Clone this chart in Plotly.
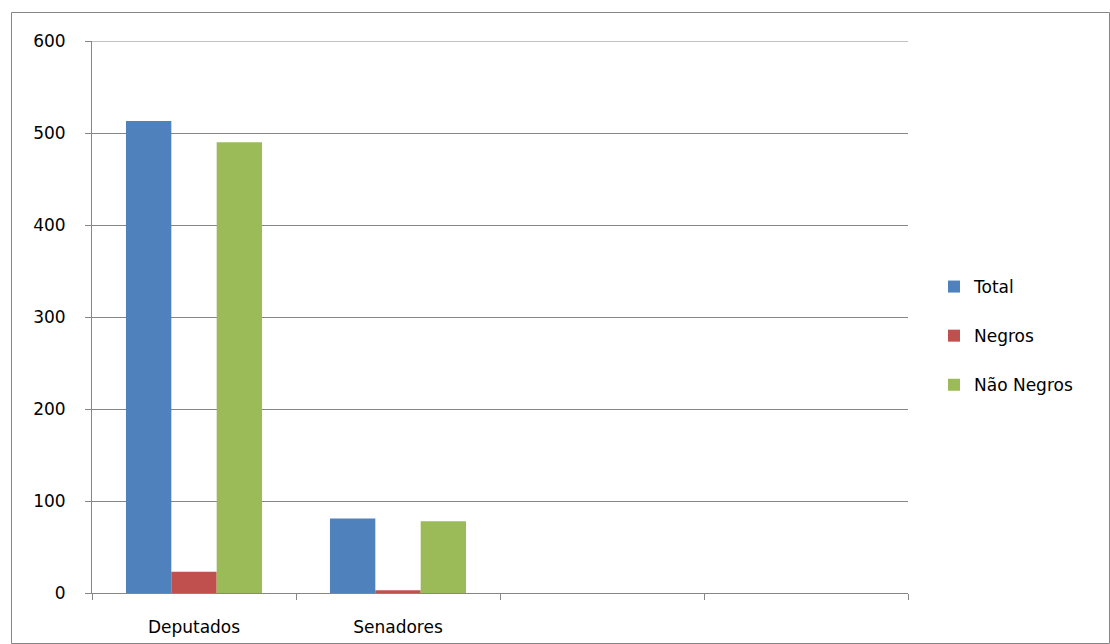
import plotly.graph_objects as go

categories = ["Deputados", "Senadores"]
n_slots = 4  # the chart reserves four category slots, two of them empty
total = [513, 81]
negros = [23, 3]
nao_negros = [490, 78]
series_names = ["Total", "Negros", "Não Negros"]
colors = ["#4F81BD", "#C0504D", "#9BBB59"]
y_ticks = [0, 100, 200, 300, 400, 500, 600]

FONT = "DejaVu Sans"
FS = 17
GRID = "#868686"

xpos = list(range(len(categories)))
boundaries = [i - 0.5 for i in range(n_slots + 1)]

fig = go.Figure()
for i, (name, vals) in enumerate(zip(series_names, [total, negros, nao_negros])):
    fig.add_trace(go.Bar(x=xpos, y=vals, name=name, marker_color=colors[i],
                         marker_line_width=0, legendgroup=name))

W, H = 1110, 644
L, R, T, B = 92, 908, 41, 593
pw, ph = R - L, B - T

def px(x):
    return (x - L) / pw

def py(y):
    return (B - y) / ph

fig.add_shape(type="rect", xref="paper", yref="paper",
              x0=px(11.5), x1=px(1109.5), y0=py(643.5), y1=py(12.5),
              line=dict(color=GRID, width=1), fillcolor="rgba(0,0,0,0)", layer="below")
# top gridline at the max of the value axis
fig.add_shape(type="line", xref="paper", yref="y", x0=0, x1=1,
              y0=y_ticks[-1], y1=y_ticks[-1], line=dict(color=GRID, width=1))

fig.update_layout(
    width=W, height=H,
    margin=dict(l=L, r=W - R, t=T, b=H - B),
    paper_bgcolor="white", plot_bgcolor="white",
    barmode="group", bargap=0.333, bargroupgap=0,
    font=dict(family=FONT, size=FS, color="#000000"),
    showlegend=True,
    legend=dict(x=px(934), y=py(336), xanchor="left", yanchor="middle",
                font=dict(family=FONT, size=FS), tracegroupgap=24,
                itemwidth=30, bgcolor="rgba(0,0,0,0)"),
    xaxis=dict(range=[boundaries[0], boundaries[-1]], tickmode="array",
               tickvals=xpos, ticktext=categories, ticks="",
               minor=dict(tickmode="array", tickvals=boundaries, ticks="outside",
                          ticklen=6, tickcolor=GRID, tickwidth=1, showgrid=False),
               showline=True, linecolor=GRID, linewidth=1, automargin=False,
               showgrid=False, zeroline=False, ticklabelstandoff=19,
               tickfont=dict(family=FONT, size=FS)),
    yaxis=dict(range=[0, 600], tickvals=y_ticks, ticks="outside", ticklen=6,
               tickcolor=GRID, tickwidth=1, showline=True, linecolor=GRID,
               linewidth=1, showgrid=True, gridcolor=GRID, gridwidth=1,
               zeroline=False, ticklabelstandoff=16, automargin=False,
               tickfont=dict(family=FONT, size=FS)),
)

fig.write_html("out.html")
